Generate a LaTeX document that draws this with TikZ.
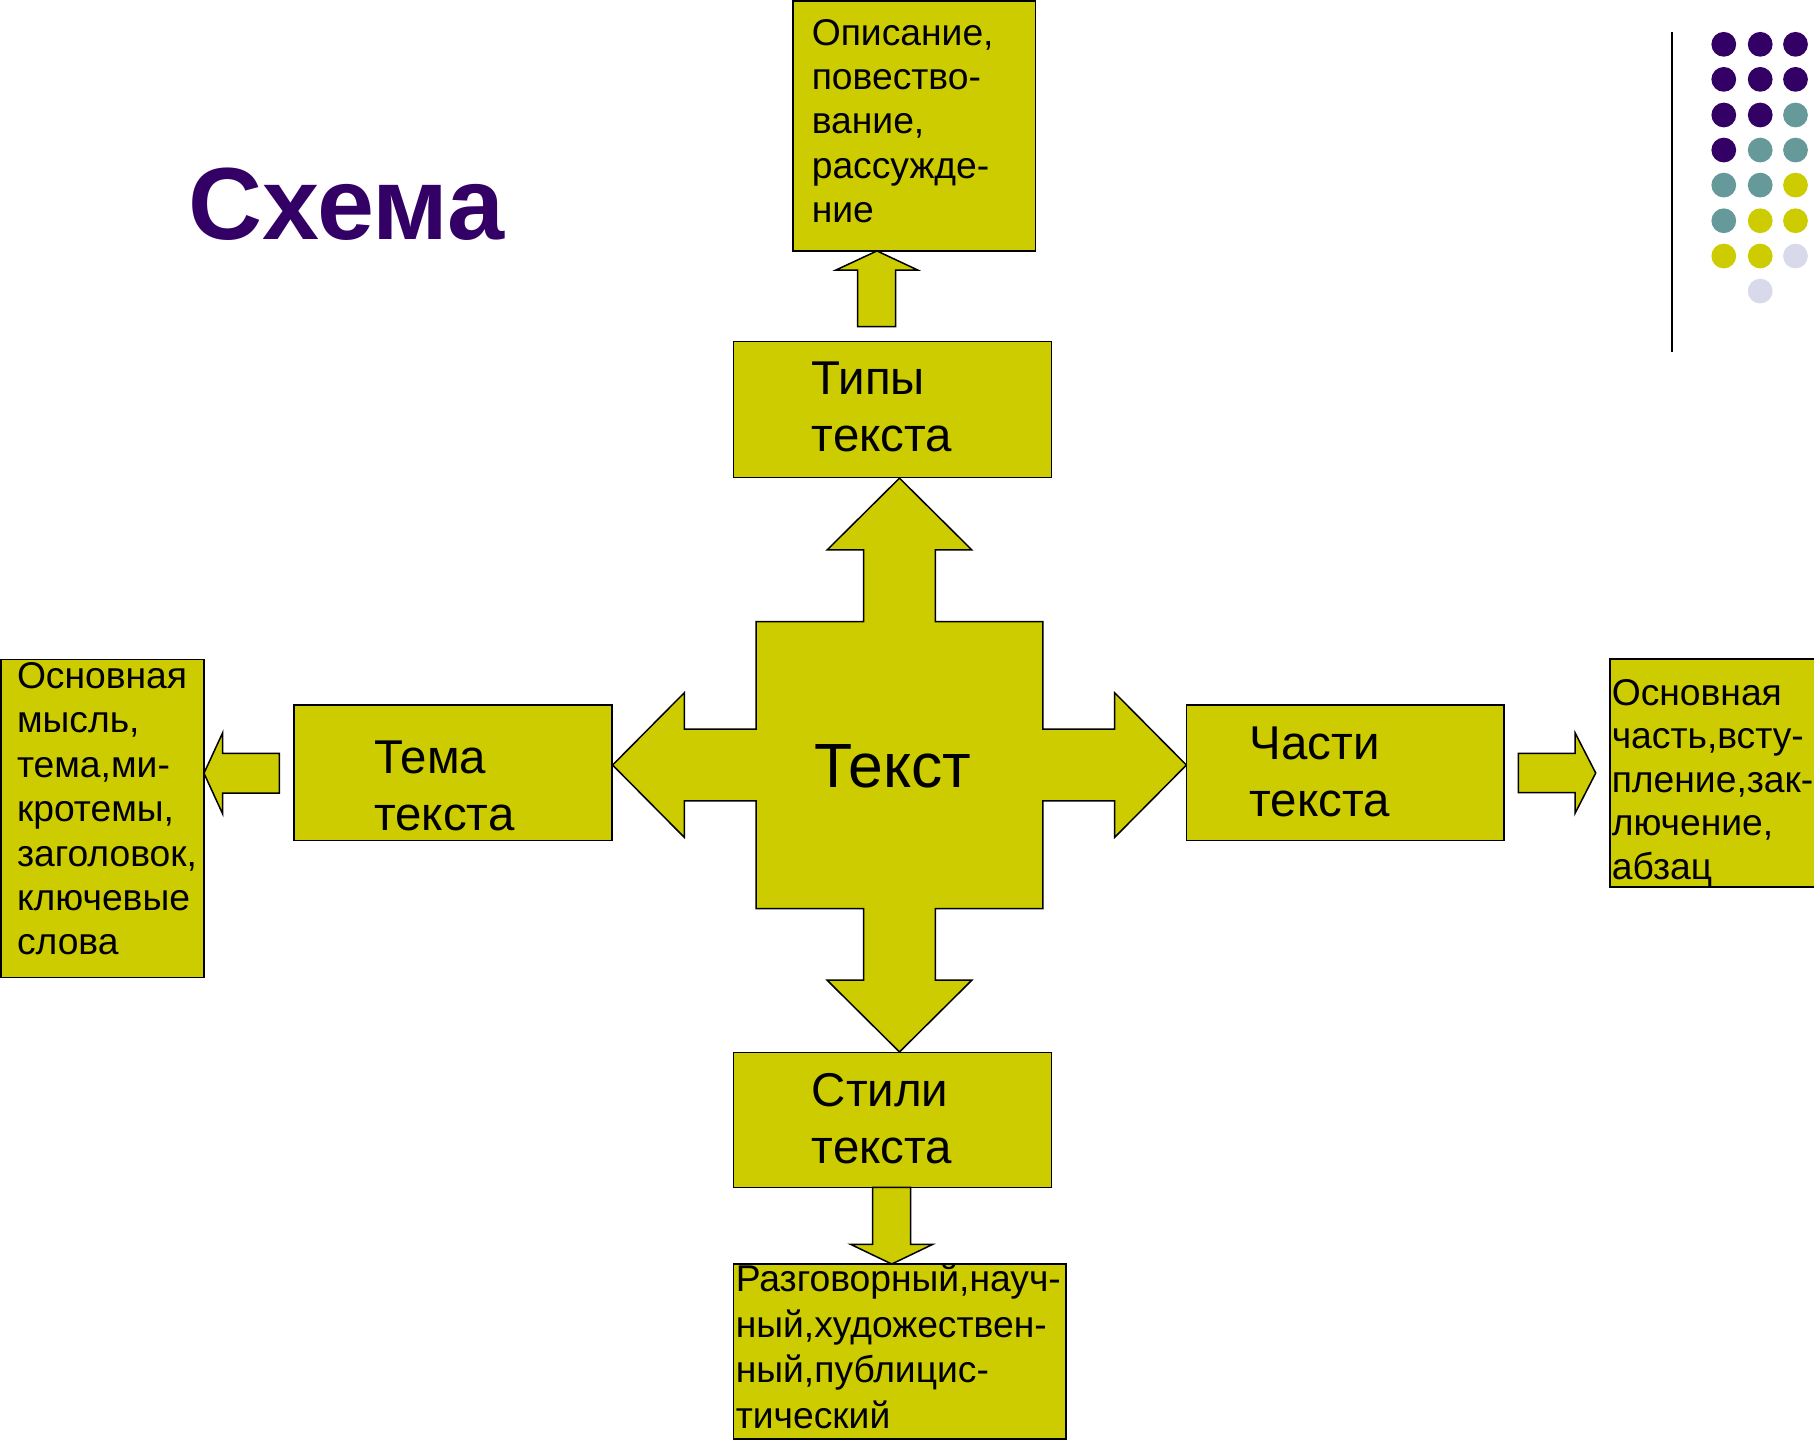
\documentclass[tikz,border=0pt]{standalone}
\usepackage{fontspec}
\setmainfont{Liberation Sans}
\usepackage{tikz}
\definecolor{schemeyellow}{HTML}{CCCC00}
\definecolor{schemepurple}{HTML}{330066}
\definecolor{schemeteal}{HTML}{669999}
\definecolor{schemelilac}{HTML}{D9D9EC}
\def\boxlines#1{\vtop{\lineskiplimit=-\maxdimen\halign{##\hfil\cr#1\crcr}}}

\begin{document}
\begin{tikzpicture}[x=1pt, y=-1pt,
	box/.style={draw=black, line width=1.3pt, fill=schemeyellow, line join=miter},
	smalltext/.style={anchor=base west, inner sep=0pt, font=\fontsize{32.2}{#1}\selectfont},
	smalltext/.default=38.4,
	midtext/.style={anchor=base west, inner sep=0pt, font=\fontsize{41}{49}\selectfont}]
			%%%%% START %%%%%
			\useasboundingbox (0, 0) rectangle (1568, 1244.8);
			
			\node[anchor=base west, inner sep=0pt, text=schemepurple, font=\fontsize{88.6}{100}\selectfont\bfseries] (title) at (163, 206.9) {Схема};
			
			% cross in the middle
			\begin{scope}[shift={(777.5, 661.3)}]
				\draw[box] (-124, -124) -- (-31, -124) -- (-31, -186) -- (-62.5, -186) -- (0, -248) -- (62.5, -186) -- (31, -186) -- (31, -124)
					-- (124, -124) -- (124, -31) -- (186, -31) -- (186, -62.5) -- (248, 0) -- (186, 62.5) -- (186, 31) -- (124, 31)
					-- (124, 124) -- (31, 124) -- (31, 186) -- (62.5, 186) -- (0, 248) -- (-62.5, 186) -- (-31, 186) -- (-31, 124)
					-- (-124, 124) -- (-124, 31) -- (-186, 31) -- (-186, 62.5) -- (-248, 0) -- (-186, -62.5) -- (-186, -31) -- (-124, -31) -- cycle;
			\end{scope}
			\node[anchor=base west, inner sep=0pt, font=\fontsize{54}{60}\selectfont] (text) at (703.5, 680.5) {Текст};
			
			% boxes of the second level
			\draw[box] (634.2, 295.3) rectangle (908.7, 412.6);
			\node[midtext] (types) at (701.5, 341.4) {\boxlines{Типы\cr текста}};
			
			\draw[box] (254.1, 609.4) rectangle (528.9, 726.4);
			\node[midtext] (theme) at (323.4, 669) {\boxlines{Тема\cr текста}};
			
			\draw[box] (1025.6, 609.4) rectangle (1300, 726.4);
			\node[midtext] (parts) at (1080, 656.4) {\boxlines{Части\cr текста}};
			
			\draw[box] (634.2, 909.6) rectangle (908.7, 1026.3);
			\node[midtext] (styles) at (701.5, 956.6) {\boxlines{Стили\cr текста}};
			
			% boxes of the third level
			\draw[box] (685.5, 0.8) rectangle (895, 216.9);
			\node[smalltext] (typelist) at (701.5, 38.9) {\boxlines{Описание,\cr повество-\cr вание,\cr рассужде-\cr ние}};
			
			\draw[box] (0.8, 569.9) rectangle (176.3, 844.8);
			\node[smalltext] (themelist) at (14.5, 595) {\boxlines{Основная\cr мысль,\cr тема,ми-\cr кротемы,\cr заголовок,\cr ключевые\cr слова}};
			
			\draw[box] (1391.7, 569.7) rectangle (1580, 766.5);
			\node[smalltext=37.6] (partlist) at (1393, 609.4) {\boxlines{Основная\cr часть,всту-\cr пление,зак-\cr лючение,\cr абзац}};
			
			\draw[box] (633.9, 1092.6) rectangle (921.4, 1244);
			\node[smalltext=39.4] (stylelist) at (635.8, 1116.5) {\boxlines{Разговорный,науч-\cr ный,художествен-\cr ный,публицис-\cr тический}};
			
			% small arrows
			\draw[box] (741.4, 282.4) -- (741.4, 233.4) -- (722.6, 233.4) -- (758, 216.9) -- (793.2, 233.4) -- (774.2, 233.4) -- (774.2, 282.4) -- cycle;
			\draw[box] (241.5, 651.2) -- (192.5, 651.2) -- (192.5, 633.3) -- (176.3, 668.4) -- (192.5, 703.6) -- (192.5, 685.6) -- (241.5, 685.6) -- cycle;
			\draw[box] (1312.5, 651.2) -- (1361.4, 651.2) -- (1361.4, 633.3) -- (1379.3, 668.2) -- (1361.4, 703.1) -- (1361.4, 685.2) -- (1312.5, 685.2) -- cycle;
			\draw[box] (754.3, 1026.3) -- (754.3, 1075.6) -- (735.3, 1075.6) -- (770.8, 1092.6) -- (806.2, 1075.6) -- (787.2, 1075.6) -- (787.2, 1026.3) -- cycle;
			
			% dots in the corner
			\draw[line width=1.4pt] (1445, 28) -- (1445, 304);
			
			\fill[schemepurple] (1490, 38.3) circle (10.7);
			\fill[schemepurple] (1521.5, 38.3) circle (10.7);
			\fill[schemepurple] (1552, 38.3) circle (10.7);
			
			\fill[schemepurple] (1490, 68.6) circle (10.7);
			\fill[schemepurple] (1521.5, 68.6) circle (10.7);
			\fill[schemepurple] (1552, 68.6) circle (10.7);
			
			\fill[schemepurple] (1490, 99.4) circle (10.7);
			\fill[schemepurple] (1521.5, 99.4) circle (10.7);
			\fill[schemeteal] (1552, 99.4) circle (10.7);
			
			\fill[schemepurple] (1490, 129.7) circle (10.7);
			\fill[schemeteal] (1521.5, 129.7) circle (10.7);
			\fill[schemeteal] (1552, 129.7) circle (10.7);
			
			\fill[schemeteal] (1490, 160) circle (10.7);
			\fill[schemeteal] (1521.5, 160) circle (10.7);
			\fill[schemeyellow] (1552, 160) circle (10.7);
			
			\fill[schemeteal] (1490, 190.8) circle (10.7);
			\fill[schemeyellow] (1521.5, 190.8) circle (10.7);
			\fill[schemeyellow] (1552, 190.8) circle (10.7);
			
			\fill[schemeyellow] (1490, 221.3) circle (10.7);
			\fill[schemeyellow] (1521.5, 221.3) circle (10.7);
			\fill[schemelilac] (1552, 221.3) circle (10.7);
			
			\fill[schemelilac] (1521.5, 251.6) circle (10.7);
			
			%%%%% END %%%%%
\end{tikzpicture}
\end{document}
